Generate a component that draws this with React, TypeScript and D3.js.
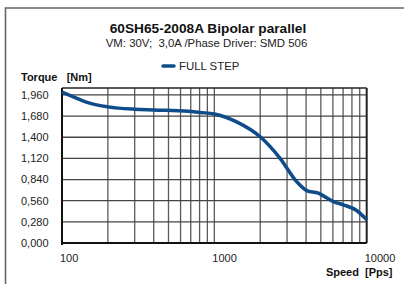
import { useEffect, useRef } from 'react'
import * as d3 from 'd3'

const speeds = [100, 122, 150, 200, 300, 400, 675, 805, 1000, 1400, 2000, 2700, 3470, 4040, 4820, 5200, 6040, 7030, 8590, 10000]
const torque = [1.996, 1.926, 1.855, 1.802, 1.771, 1.762, 1.745, 1.728, 1.709, 1.604, 1.406, 1.121, 0.812, 0.694, 0.659, 0.624, 0.549, 0.505, 0.43, 0.307]
const yTicks = [0, 0.28, 0.56, 0.84, 1.12, 1.4, 1.68, 1.96]
const xLabels = [100, 1000, 10000]

const FONT = 'Arial, "Liberation Sans", sans-serif'
const NB = '\u00a0'

export default function App() {
  const svgRef = useRef<SVGSVGElement>(null)

  useEffect(() => {
    if (!svgRef.current) return
    const svg = d3.select(svgRef.current)
    svg.selectAll('*').remove()

    const left = 62
    const right = 366.7
    const top = 88
    const bottom = 243

    const x = d3.scaleLog().domain([100, 10000]).range([left, right])
    const y = d3.scaleLinear().domain([0, 2.052]).range([bottom, top])

    // outer frame
    svg.append('path')
      .attr('d', `M5.5,284 L5.5,8 L404,8`)
      .attr('fill', 'none')
      .attr('stroke', '#666')
      .attr('stroke-width', 1.6)

    // vertical grid (log minor lines)
    const vLines = d3.range(2, 10).map(d => d * 100)
      .concat([1000])
      .concat(d3.range(2, 10).map(d => d * 1000))
    svg.append('g')
      .selectAll('line')
      .data(vLines)
      .join('line')
      .attr('x1', d => x(d))
      .attr('x2', d => x(d))
      .attr('y1', top)
      .attr('y2', bottom)
      .attr('stroke', '#5a5a5a')
      .attr('stroke-width', 1.3)

    // horizontal grid
    svg.append('g')
      .selectAll('line')
      .data(yTicks.slice(1))
      .join('line')
      .attr('x1', left)
      .attr('x2', right)
      .attr('y1', d => y(d))
      .attr('y2', d => y(d))
      .attr('stroke', '#444')
      .attr('stroke-width', 1.3)

    // plot border
    svg.append('line')
      .attr('x1', left).attr('x2', right).attr('y1', top).attr('y2', top)
      .attr('stroke', '#222').attr('stroke-width', 1.5)
    svg.append('line')
      .attr('x1', right).attr('x2', right).attr('y1', top).attr('y2', bottom)
      .attr('stroke', '#222').attr('stroke-width', 2)
    svg.append('line')
      .attr('x1', left).attr('x2', right).attr('y1', bottom).attr('y2', bottom)
      .attr('stroke', '#111').attr('stroke-width', 2)
    svg.append('line')
      .attr('x1', left).attr('x2', left).attr('y1', top).attr('y2', bottom + 2)
      .attr('stroke', '#111').attr('stroke-width', 2)

    // y labels
    svg.append('g')
      .selectAll('text')
      .data(yTicks)
      .join('text')
      .attr('x', 48.5)
      .attr('y', d => y(d))
      .attr('dy', '0.35em')
      .attr('text-anchor', 'end')
      .style('font-family', FONT)
      .style('font-size', '11px')
      .style('fill', '#222')
      .text(d => d.toFixed(3).replace('.', ','))

    // x labels
    svg.append('g')
      .selectAll('text')
      .data(xLabels)
      .join('text')
      .attr('x', d => x(d) - 2)
      .attr('y', 262)
      .style('font-family', FONT)
      .style('font-size', '11px')
      .style('fill', '#222')
      .text(d => String(d))

    // curve
    const line = d3.line<number>()
      .x((_, i) => x(speeds[i]))
      .y(d => y(d))
      .curve(d3.curveMonotoneX)
    svg.append('path')
      .datum(torque)
      .attr('d', line)
      .attr('fill', 'none')
      .attr('stroke', '#0f4c8a')
      .attr('stroke-width', 3.5)

    // titles
    svg.append('text')
      .attr('x', 208).attr('y', 32.8)
      .attr('text-anchor', 'middle')
      .style('font-family', FONT).style('font-size', '13.7px').style('font-weight', 'bold')
      .style('fill', '#111')
      .text('60SH65-2008A Bipolar parallel')
    svg.append('text')
      .attr('x', 206.5).attr('y', 46.5)
      .attr('text-anchor', 'middle')
      .style('font-family', FONT).style('font-size', '11.4px')
      .style('fill', '#222')
      .text(`VM: 30V;${NB} 3,0A /Phase Driver: SMD 506`)

    // legend
    svg.append('line')
      .attr('x1', 163).attr('x2', 174).attr('y1', 66).attr('y2', 66)
      .attr('stroke', '#0f4c8a').attr('stroke-width', 3.5).attr('stroke-linecap', 'round')
    svg.append('text')
      .attr('x', 179).attr('y', 70.4)
      .style('font-family', FONT).style('font-size', '11.4px')
      .style('fill', '#222')
      .text('FULL STEP')

    // axis titles
    svg.append('text')
      .attr('x', 21).attr('y', 81.3)
      .style('font-family', FONT).style('font-size', '11px').style('font-weight', 'bold')
      .style('fill', '#111')
      .text(`Torque${NB}${NB} [Nm]`)
    svg.append('text')
      .attr('x', 392.5).attr('y', 276)
      .attr('text-anchor', 'end')
      .style('font-family', FONT).style('font-size', '11px').style('font-weight', 'bold')
      .style('fill', '#111')
      .text(`Speed${NB} [Pps]`)
  }, [])

  return (
    <svg
      ref={svgRef}
      width={405}
      height={284}
      style={{ position: 'absolute', left: 0, top: 0, background: '#fff' }}
    />
  )
}
